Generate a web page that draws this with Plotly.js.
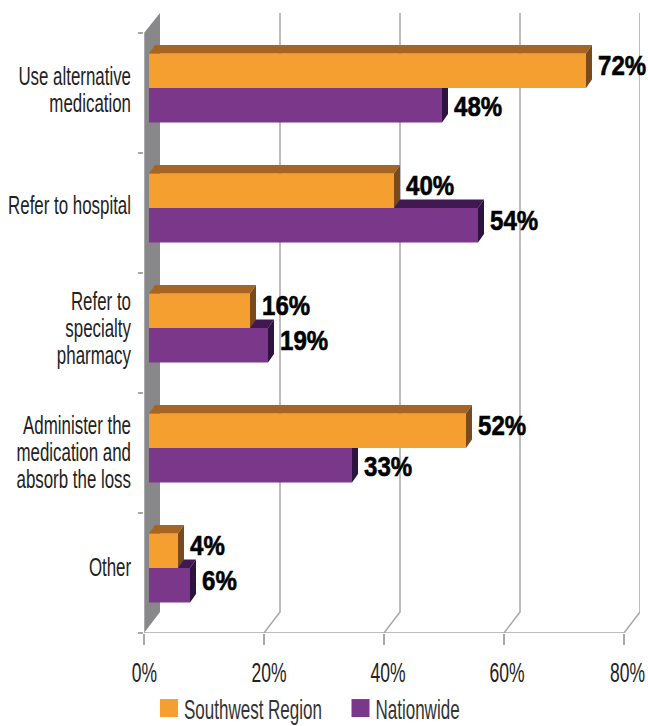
<!DOCTYPE html>
<html>
<head>
<meta charset="utf-8">
<script src="https://cdn.plot.ly/plotly-3.0.1.min.js"></script>
<style>html,body{margin:0;padding:0;background:#fff}</style>
</head>
<body>
<div id="chart" style="width:648px;height:726px"></div>
<script>
var categories = ["Use alternative<br>medication", "Refer to hospital", "Refer to<br>specialty<br>pharmacy", "Administer the<br>medication and<br>absorb the loss", "Other"];
var southwest = [72, 40, 16, 52, 4];
var nationwide = [48, 54, 19, 33, 6];
var xTicks = [0, 20, 40, 60, 80];
var seriesNames = ["Southwest Region", "Nationwide"];

var FONT = '"Liberation Sans",sans-serif';
var pxX = 6, pxY = 120;               // pixels per data unit
var wallDx = 16 / pxX, wallDy = 21 / pxY;
var barDx = 6 / pxX, barDy = 8.5 / pxY;
var baseX = -5 / pxX;                 // left end of bars on the shifted axis
var halfH = 17.25 / pxY;
var idx = categories.map(function (_, i) { return i; });
var xMax = 496 / pxX, yTop = -0.5 - 20 / pxY;
var shiftX = 10 / pxX, shiftY = 5 / pxY;

function poly(points) { // several closed polygons, separated by null
  var x = [], y = [];
  points.forEach(function (p) {
    p.forEach(function (q) { x.push(q[0]); y.push(q[1]); });
    x.push(p[0][0]); y.push(p[0][1]);
    x.push(null); y.push(null);
  });
  return { x: x, y: y };
}
function faceTrace(p, color, xa, ya) {
  return { type: 'scatter', mode: 'lines', x: p.x, y: p.y, fill: 'toself', fillcolor: color,
    line: { width: 0, color: color }, xaxis: xa, yaxis: ya, showlegend: false, hoverinfo: 'skip' };
}
function tops(vals, yc) {
  return poly(vals.map(function (v, i) {
    var t = yc(i) - halfH;
    return [[baseX, t], [v, t], [v + barDx, t - barDy], [baseX + barDx, t - barDy]];
  }));
}
function sides(vals, yc) {
  return poly(vals.map(function (v, i) {
    var t = yc(i) - halfH, b = yc(i) + halfH;
    return [[v, t], [v + barDx, t - barDy], [v + barDx, b - barDy], [v, b]];
  }));
}
var ySW = function (i) { return i - halfH; };
var yNW = function (i) { return i + halfH; };

// chart frame
var wall = poly([[[0, 4.5], [wallDx, 4.5 - wallDy], [wallDx, yTop], [0, -0.5]]]);
var gridX = [], gridY = [];
xTicks.slice(1).forEach(function (t) {
  gridX.push(t, t + wallDx, t + wallDx, null);
  gridY.push(4.5, 4.5 - wallDy, yTop, null);
});

var data = [
  faceTrace(wall, '#88888A', 'x', 'y'),
  { type: 'scatter', mode: 'lines', x: [0, 0], y: [-0.5, 4.5], line: { color: '#B4B4B6', width: 1.5 },
    xaxis: 'x', yaxis: 'y', showlegend: false, hoverinfo: 'skip' },
  { type: 'scatter', mode: 'lines', x: gridX, y: gridY, line: { color: '#A8A8AB', width: 1.5 },
    xaxis: 'x', yaxis: 'y', showlegend: false, hoverinfo: 'skip' },
  { type: 'scatter', mode: 'lines', x: [0, xTicks[xTicks.length - 1]], y: [4.5, 4.5], line: { color: '#A8A8AB', width: 1.5 },
    xaxis: 'x', yaxis: 'y', showlegend: false, hoverinfo: 'skip' },
  // back faces of the Nationwide bars
  faceTrace(tops(nationwide, yNW), '#3F1950', 'x2', 'y2'),
  faceTrace(sides(nationwide, yNW), '#2E1240', 'x2', 'y2'),
  // fronts
  { type: 'bar', orientation: 'h', name: seriesNames[1], y: idx.map(yNW), x: nationwide.map(function (v) { return v - baseX; }),
    base: baseX, width: 2 * halfH, marker: { color: '#7B388B', line: { width: 0 } }, xaxis: 'x3', yaxis: 'y3', showlegend: false, hoverinfo: 'skip' },
  { type: 'bar', orientation: 'h', name: seriesNames[0], y: idx.map(ySW), x: southwest.map(function (v) { return v - baseX; }),
    base: baseX, width: 2 * halfH, marker: { color: '#F49F2F', line: { width: 0 } }, xaxis: 'x3', yaxis: 'y3', showlegend: false, hoverinfo: 'skip' },
  faceTrace(tops(southwest, ySW), '#A66525', 'x3', 'y3'),
  faceTrace(sides(southwest, ySW), '#7A4A1C', 'x3', 'y3'),
  // legend keys
  { type: 'scatter', mode: 'markers', name: seriesNames[0], x: [null], y: [null], marker: { symbol: 'square', size: 18, color: '#F49F2F' }, xaxis: 'x', yaxis: 'y', hoverinfo: 'skip' },
  { type: 'scatter', mode: 'markers', name: seriesNames[1], x: [null], y: [null], marker: { symbol: 'square', size: 18, color: '#7B388B' }, xaxis: 'x', yaxis: 'y', hoverinfo: 'skip' }
];

var annotations = [];
function addLabels(vals, others, yc) {
  vals.forEach(function (v, i) {
    var dy = (vals === nationwide && v < others[i]) ? -1 : 5;
    annotations.push({ x: v, y: yc(i), xref: 'x3', yref: 'y3', text: v + '%', showarrow: false,
      xanchor: 'left', yanchor: 'middle', xshift: 11, yshift: dy, xpad: 0, borderpad: 0,
      font: { family: FONT, size: 28, color: '#000', weight: 700 } });
  });
}
addLabels(southwest, nationwide, ySW);
addLabels(nationwide, southwest, yNW);

var hidden = { visible: false, showgrid: false, zeroline: false };
var layout = {
  width: 648, height: 726, paper_bgcolor: '#fff', plot_bgcolor: 'rgba(0,0,0,0)',
  margin: { l: 144, r: 8, t: 13, b: 93, pad: 0, autoexpand: false },
  font: { family: FONT, color: '#222' },
  showlegend: true,
  legend: { orientation: 'h', x: 0.5, xref: 'container', xanchor: 'center', y: 0.0, yref: 'container', yanchor: 'bottom',
    font: { family: FONT, size: 27, color: '#333' }, bgcolor: 'rgba(0,0,0,0)' },
  xaxis: { range: [0, xMax], tickmode: 'array', tickvals: xTicks, ticktext: xTicks.map(function (t) { return t + '%'; }),
    ticks: 'outside', ticklen: 11, tickwidth: 1.5, tickcolor: '#A8A8AB', showgrid: false, zeroline: false, showline: false,
    ticklabeloverflow: 'allow', tickfont: { family: FONT, size: 28, color: '#222' } },
  yaxis: { range: [4.5, yTop], tickmode: 'array', tickvals: [-0.5, 0.5, 1.5, 2.5, 3.5, 4.5], showticklabels: false,
    ticks: 'outside', ticklen: 5, tickwidth: 1.5, tickcolor: '#A8A8AB', showgrid: false, zeroline: false, showline: false },
  xaxis2: Object.assign({ overlaying: 'x', range: [-shiftX, xMax - shiftX], anchor: 'y2' }, hidden),
  yaxis2: Object.assign({ overlaying: 'y', range: [4.5 + shiftY, yTop + shiftY], anchor: 'x2' }, hidden),
  xaxis3: Object.assign({ overlaying: 'x', range: [-shiftX, xMax - shiftX], anchor: 'y3' }, hidden),
  yaxis3: { overlaying: 'y', range: [4.5 + shiftY, yTop + shiftY], anchor: 'x3', side: 'left', showgrid: false, zeroline: false, showline: false,
    tickmode: 'array', tickvals: idx, ticktext: categories, ticks: '', ticklabelstandoff: 12, ticklabeloverflow: 'allow',
    tickfont: { family: FONT, size: 26, color: '#222' } },
  annotations: annotations
};

// Horizontal condensing of the real text: no condensed face is installed.
function condense(el, s, pivot, dx, dy) {
  var r = el.getBoundingClientRect();
  var px = pivot === 'left' ? r.left : pivot === 'right' ? r.right : (r.left + r.right) / 2;
  var m = el.parentNode.getScreenCTM();
  var p = (px - m.e) / m.a;
  var old = el.getAttribute('transform') || '';
  el.setAttribute('transform', 'translate(' + (dx || 0) + ',' + (dy || 0) + ') translate(' + p + ',0) scale(' + s + ',1) translate(' + (-p) + ',0) ' + old);
}
var xNudge = [0.5, 5, 4, 3, 3.5], yNudge = [1.5, -3, 0, 4, -1];
Plotly.newPlot('chart', data, layout, { displayModeBar: false, staticPlot: true }).then(function (gd) {
  var q = function (s) { return Array.prototype.slice.call(gd.querySelectorAll(s)); };
  q('g.xtick text').forEach(function (t, i) { condense(t, 0.625, 'center', xNudge[i], 3); });
  q('.annotation text').forEach(function (t) {
    condense(t, 0.86, 'left');
    t.style.stroke = '#000'; t.style.strokeWidth = '0.6px';
  });
  q('g.y3tick text').forEach(function (t, k) {
    var lines = t.querySelectorAll('tspan.line');
    var lh = 27, fs = 26;
    for (var i = 1; i < lines.length; i++) lines[i].setAttribute('dy', (i * lh) + 'px');
    var shift = lines.length > 1 ? (lines.length - 1) * (1.3 * fs - lh) / 2 : 0;
    condense(t, 0.65, 'right', 0, shift + yNudge[k]);
  });
  var keyX = [169, 360.5];
  q('.legend .traces').forEach(function (g, i) {
    var tr = g.getAttribute('transform') || 'translate(0,0)';
    var mt = /translate\(\s*([-\d.]+)[ ,]*([-\d.]+)?/.exec(tr);
    var pt = g.querySelector('.legendpoints path');
    var cur = pt.getScreenCTM().e;
    g.setAttribute('transform', 'translate(' + (parseFloat(mt[1]) + keyX[i] - cur) + ',' + (parseFloat(mt[2] || 0) + 7) + ')');
    pt.setAttribute('transform', (pt.getAttribute('transform') || '') + ' scale(1.125)');
    condense(g.querySelector('.legendtext'), 0.63, 'left', -5);
  });
  var sb = gd.querySelector('.legend .scrollbox');
  if (sb) sb.removeAttribute('clip-path');
});
</script>
</body>
</html>
